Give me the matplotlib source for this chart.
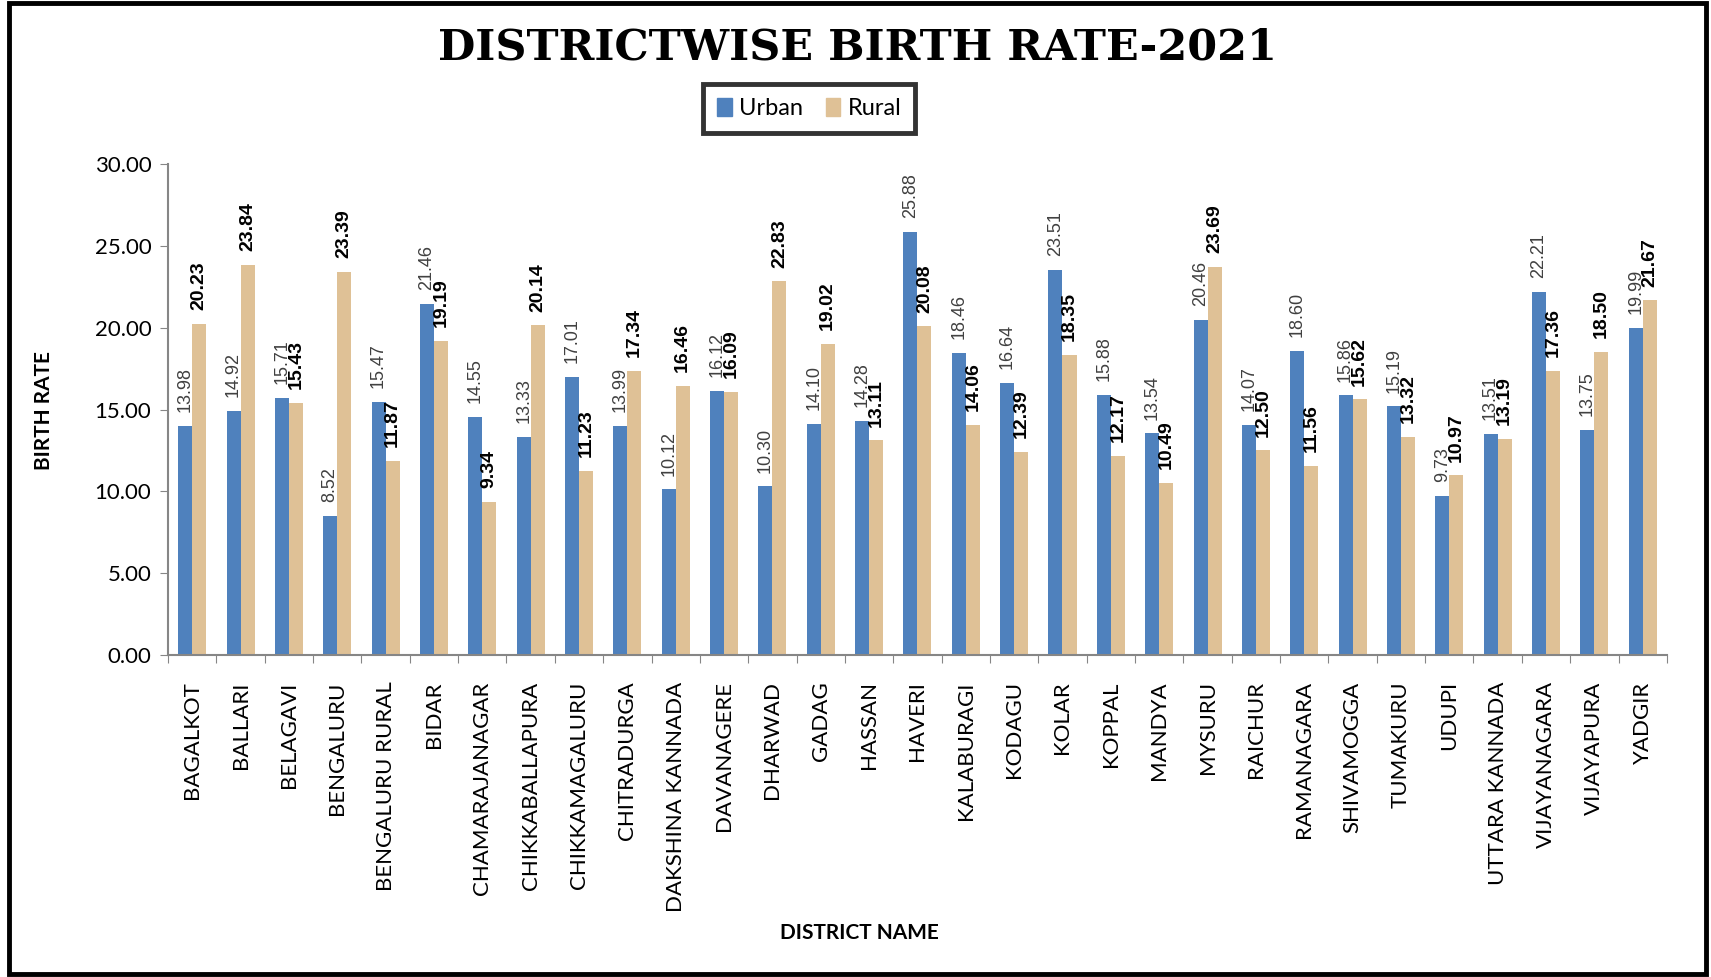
import numpy as np
import matplotlib
matplotlib.use('Agg')
import matplotlib.pyplot as plt
from matplotlib.patches import Rectangle, Patch
from matplotlib.ticker import FormatStrFormatter

# data
districts = ['BAGALKOT', 'BALLARI', 'BELAGAVI', 'BENGALURU', 'BENGALURU RURAL', 'BIDAR',
             'CHAMARAJANAGAR', 'CHIKKABALLAPURA', 'CHIKKAMAGALURU', 'CHITRADURGA',
             'DAKSHINA KANNADA', 'DAVANAGERE', 'DHARWAD', 'GADAG', 'HASSAN', 'HAVERI',
             'KALABURAGI', 'KODAGU', 'KOLAR', 'KOPPAL', 'MANDYA', 'MYSURU', 'RAICHUR',
             'RAMANAGARA', 'SHIVAMOGGA', 'TUMAKURU', 'UDUPI', 'UTTARA KANNADA',
             'VIJAYANAGARA', 'VIJAYAPURA', 'YADGIR']
urban = [13.98, 14.92, 15.71, 8.52, 15.47, 21.46, 14.55, 13.33, 17.01, 13.99,
         10.12, 16.12, 10.30, 14.10, 14.28, 25.88, 18.46, 16.64, 23.51, 15.88,
         13.54, 20.46, 14.07, 18.60, 15.86, 15.19, 9.73, 13.51, 22.21, 13.75, 19.99]
rural = [20.23, 23.84, 15.43, 23.39, 11.87, 19.19, 9.34, 20.14, 11.23, 17.34,
         16.46, 16.09, 22.83, 19.02, 13.11, 20.08, 14.06, 12.39, 18.35, 12.17,
         10.49, 23.69, 12.50, 11.56, 15.62, 13.32, 10.97, 13.19, 17.36, 18.50, 21.67]

urban_color = '#4F81BD'
rural_color = '#DFC196'
grey = '#868686'

fig = plt.figure(figsize=(17.11, 9.77), dpi=100)
ax = fig.add_axes([0.0982, 0.3296, 0.8760, 0.5024])

x = np.arange(len(districts))
w = 0.29
b1 = ax.bar(x - w / 2, urban, w, color=urban_color, label='Urban')
b2 = ax.bar(x + w / 2, rural, w, color=rural_color, label='Rural')

# value labels above the bars
for rect, v in zip(b1, urban):
    ax.annotate(f'{v:.2f}', (rect.get_x() + rect.get_width() / 2, rect.get_height()),
                xytext=(0, 10), textcoords='offset points', rotation=90,
                ha='center', va='bottom', fontsize=13, color='#404040',
                family='Liberation Sans')
for rect, v in zip(b2, rural):
    ax.annotate(f'{v:.2f}', (rect.get_x() + rect.get_width() / 2, rect.get_height()),
                xytext=(0, 10), textcoords='offset points', rotation=90,
                ha='center', va='bottom', fontsize=14, color='black',
                fontweight='bold', family='Liberation Sans')

ax.set_ylim(0, 30)
ax.set_yticks(np.arange(0, 30.01, 5))
ax.yaxis.set_major_formatter(FormatStrFormatter('%.2f'))
ax.set_xlim(-0.5, len(districts) - 0.5)

# boundary ticks (major) and centred labels (minor)
ax.set_xticks(np.arange(-0.5, len(districts), 1.0))
ax.set_xticklabels([])
ax.set_xticks(x, minor=True)
ax.set_xticklabels(districts, minor=True, rotation=90, va='top', ha='center',
                   fontsize=16, family='Lato')
ax.tick_params(axis='x', which='major', length=6, color=grey, direction='out')
ax.tick_params(axis='x', which='minor', length=0, pad=19)
ax.tick_params(axis='y', length=6, color=grey, labelsize=16, pad=6)
for lab in ax.get_yticklabels():
    lab.set_family('Lato')

for s in ['top', 'right']:
    ax.spines[s].set_visible(False)
for s in ['left', 'bottom']:
    ax.spines[s].set_color(grey)
    ax.spines[s].set_linewidth(1.5)

fig.text(0.026, 0.58, 'BIRTH RATE', rotation=90, ha='center', va='center',
         fontsize=15, fontweight='bold', family='Lato')
fig.text(0.502, 0.045, 'DISTRICT NAME', ha='center', va='center',
         fontsize=15, fontweight='bold', family='Lato')

fig.text(0.501, 0.951, 'DISTRICTWISE BIRTH RATE-2021', ha='center', va='center',
         fontsize=31, fontweight='heavy', family='DejaVu Serif')

handles = [Patch(color=urban_color, label='Urban'), Patch(color=rural_color, label='Rural')]
leg = fig.legend(handles=handles, loc='center', bbox_to_anchor=(0.473, 0.889), ncol=2,
                 fancybox=False, frameon=True, prop={'family': 'Lato', 'size': 17},
                 handlelength=0.6, handleheight=0.8, handletextpad=0.3,
                 columnspacing=1.0, borderpad=0.6)
leg.get_frame().set_edgecolor('black')
leg.get_frame().set_linewidth(3.5)

# outer chart border
fig.patches.append(Rectangle((0.0053, 0.003), 0.9917, 0.994, transform=fig.transFigure,
                             fill=False, edgecolor='black', linewidth=3.5))

fig.savefig('out.png', dpi=100)
